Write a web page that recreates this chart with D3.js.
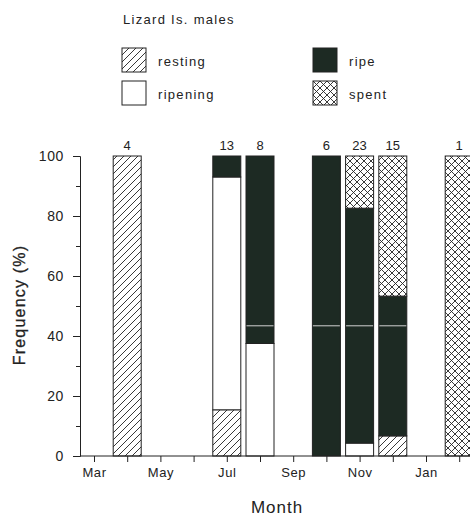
<!DOCTYPE html>
<html>
<head>
<meta charset="utf-8">
<script src="https://cdn.jsdelivr.net/npm/d3@7"></script>
<style>
  body { margin: 0; background: #fff; }
  svg { display: block; font-family: "Liberation Sans", Arial, sans-serif; }
  .axis text { font-size: 13px; letter-spacing: 0.6px; fill: #222; }
  .axis path, .axis line { stroke: #222; }
</style>
</head>
<body>
<svg id="chart" width="470" height="520"></svg>
<script>
// Monthly gonad stages, Lizard Is. males (% of fish per month)
const months = ['Mar','Apr','May','Jun','Jul','Aug','Sep','Oct','Nov','Dec','Jan','Feb'];
const sampleMonths = ['Apr','Jul','Aug','Oct','Nov','Dec','Feb'];
const sampleSizes = [4, 13, 8, 6, 23, 15, 1];
const resting   = [100, 15.4, 0,    0,   0,    6.7,  0];
const ripening  = [0,   77.6, 37.5, 0,   4.3,  0,    0];
const ripe      = [0,   7.0,  62.5, 100, 78.3, 46.6, 0];
const spent     = [0,   0,    0,    0,   17.4, 46.7, 100];
const stages = ['resting', 'ripening', 'ripe', 'spent'];

const svg = d3.select('#chart');
const x0 = 80, x1 = 470, yTop = 156, yBot = 456;

const x = d3.scalePoint().domain(months).range([94, 459.2]);
const y = d3.scaleLinear().domain([0, 100]).range([yBot, yTop]);
const barW = 28;

// Fill patterns
const defs = svg.append('defs');
const hatch = defs.append('pattern').attr('id', 'hatch-resting')
    .attr('patternUnits', 'userSpaceOnUse').attr('width', 7).attr('height', 7);
hatch.append('path').attr('d', 'M-1,1 l2,-2 M0,7 l7,-7 M6,8 l2,-2')
    .attr('stroke', '#222').attr('stroke-width', 0.9);
const cross = defs.append('pattern').attr('id', 'hatch-spent')
    .attr('patternUnits', 'userSpaceOnUse').attr('width', 7).attr('height', 7);
cross.append('rect').attr('width', 7).attr('height', 7).attr('fill', '#fff');
cross.append('path').attr('d', 'M-1,1 l2,-2 M0,7 l7,-7 M6,8 l2,-2 M-1,6 l2,2 M0,0 l7,7 M6,-1 l2,2')
    .attr('stroke', '#222').attr('stroke-width', 0.9);

const fills = {
    resting: 'url(#hatch-resting)',
    ripening: '#fff',
    ripe: '#1d2a23',
    spent: 'url(#hatch-spent)'
};

// Data table built from the arrays
const rows = sampleMonths.map((m, i) => ({
    month: m, n: sampleSizes[i],
    resting: resting[i], ripening: ripening[i], ripe: ripe[i], spent: spent[i]
}));
const series = d3.stack().keys(stages)(rows);

// Bars
svg.append('g').selectAll('g').data(series).join('g')
    .attr('fill', d => fills[d.key])
    .selectAll('rect').data(d => d.filter(s => s[1] - s[0] > 0)).join('rect')
    .attr('x', d => x(d.data.month) - barW / 2)
    .attr('y', d => y(d[1]))
    .attr('width', barW)
    .attr('height', d => y(d[0]) - y(d[1]))
    .attr('stroke', '#222').attr('stroke-width', 1);

// faint scan line showing on the dark segments only
const scanY = 43.4;
const darkHits = series.find(s => s.key === 'ripe').filter(s => s[0] < scanY && s[1] > scanY);
svg.append('g').selectAll('line').data(darkHits).join('line')
    .attr('x1', d => x(d.data.month) - barW / 2 + 0.5)
    .attr('x2', d => x(d.data.month) + barW / 2 - 0.5)
    .attr('y1', y(scanY)).attr('y2', y(scanY))
    .attr('stroke', '#d0d0d0').attr('stroke-width', 1);

// Sample sizes above bars
svg.append('g').selectAll('text').data(rows).join('text')
    .attr('x', d => x(d.month)).attr('y', 150)
    .attr('text-anchor', 'middle')
    .style('font-size', '13px').style('fill', '#222')
    .text(d => d.n);

// Y axis
const yAxis = svg.append('g').attr('class', 'axis')
    .attr('transform', `translate(${x0},0)`)
    .call(d3.axisLeft(y).tickValues(d3.range(0, 101, 10))
        .tickFormat(d => d % 20 === 0 ? d : '').tickSizeOuter(0).tickSize(7).tickPadding(9));
yAxis.selectAll('.tick').filter(d => d % 20 !== 0).select('line').attr('x2', -4);
yAxis.selectAll('text').style('font-size', '14px');

// X axis
const xAxis = svg.append('g').attr('class', 'axis')
    .attr('transform', `translate(0,${yBot})`)
    .call(d3.axisBottom(x).tickFormat((d, i) => i % 2 === 0 ? d : '')
        .tickSizeOuter(0).tickSize(6).tickPadding(6));
xAxis.select('.domain').attr('d', `M${x0},0H${x1}`);

// Axis titles
svg.append('text')
    .attr('transform', `translate(25,305) rotate(-90)`)
    .attr('text-anchor', 'middle')
    .style('font-size', '16px').style('letter-spacing', '1.2px').style('fill', '#222')
    .style('stroke', '#222').style('stroke-width', 0.3)
    .text('Frequency (%)');
svg.append('text')
    .attr('x', 277).attr('y', 513).attr('text-anchor', 'middle')
    .style('font-size', '17px').style('letter-spacing', '1px').style('fill', '#222')
    .text('Month');

// Legend
svg.append('text')
    .attr('x', 123).attr('y', 24)
    .style('font-size', '13px').style('letter-spacing', '1.3px').style('fill', '#222')
    .text('Lizard Is. males');
const legendPos = [
    { key: 'resting', x: 122, y: 48 },
    { key: 'ripening', x: 122, y: 81 },
    { key: 'ripe', x: 313, y: 48 },
    { key: 'spent', x: 313, y: 81 }
];
const leg = svg.append('g').selectAll('g').data(legendPos).join('g')
    .attr('transform', d => `translate(${d.x},${d.y})`);
leg.append('rect').attr('width', 24).attr('height', 24)
    .attr('fill', d => fills[d.key]).attr('stroke', '#222');
leg.append('text').attr('x', 36).attr('y', 18)
    .style('font-size', '13px').style('letter-spacing', '1.3px').style('fill', '#222')
    .text(d => d.key);
</script>
</body>
</html>
